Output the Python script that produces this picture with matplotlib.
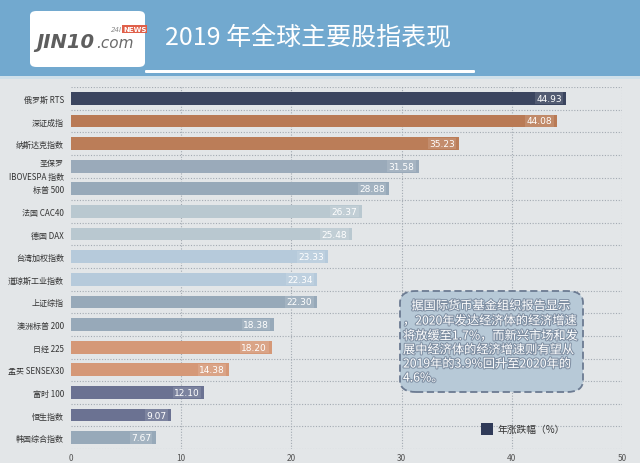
import matplotlib
matplotlib.use("Agg")
import matplotlib.pyplot as plt
from matplotlib.patches import FancyBboxPatch, Rectangle
import matplotlib.patheffects as pe

plt.rcParams['font.family'] = ['Noto Sans CJK SC', 'DejaVu Sans']

categories = ["俄罗斯 RTS", "深证成指", "纳斯达克指数", "圣保罗\nIBOVESPA 指数", "标普 500",
              "法国 CAC40", "德国 DAX", "台湾加权指数", "道琼斯工业指数", "上证综指",
              "澳洲标普 200", "日经 225", "孟买 SENSEX30", "富时 100", "恒生指数", "韩国综合指数"]
values = [44.93, 44.08, 35.23, 31.58, 28.88, 26.37, 25.48, 23.33, 22.34, 22.30,
          18.38, 18.20, 14.38, 12.10, 9.07, 7.67]
labels = ["44.93", "44.08", "35.23", "31.58", "28.88", "26.37", "25.48", "23.33", "22.34", "22.30",
          "18.38", "18.20", "14.38", "12.10", "9.07", "7.67"]
colors = ["#3b455f", "#b97a55", "#bb7d58", "#9aaaba", "#97a9b9",
          "#b9c8d0", "#b9c8d0", "#b6cadb", "#b6cadb", "#97a9b9",
          "#97a9b9", "#d59877", "#d59877", "#6b7292", "#6b7292", "#97a9b9"]
xticks = [0, 10, 20, 30, 40, 50]
legend_label = "年涨跌幅（%）"
title = "2019 年全球主要股指表现"
note_lines = ["据国际货币基金组织报告显示",
              "，2020年发达经济体的经济增速",
              "将放缓至1.7%，而新兴市场和发",
              "展中经济体的经济增速则有望从",
              "2019年的3.9%回升至2020年的",
              "4.6%。"]

W, H = 640, 464
fig = plt.figure(figsize=(6.4, 4.64), dpi=100, facecolor="#e3e6e8")

def fx(px):
    return px / W

def fy(py):
    return 1 - py / H

# header band
fig.patches.append(Rectangle((0, fy(77)), 1, 77 / H, transform=fig.transFigure,
                             facecolor="#72a9cf", edgecolor="none", zorder=0))
fig.patches.append(Rectangle((0, fy(80)), 1, 3 / H, transform=fig.transFigure,
                             facecolor="#cfe0ea", edgecolor="none", zorder=0))
# logo box
fig.patches.append(FancyBboxPatch((fx(30), fy(68)), fx(115), 56 / H,
                                  boxstyle="round,pad=0,rounding_size=0.01",
                                  transform=fig.transFigure, facecolor="white",
                                  edgecolor="none", zorder=1))
fig.text(fx(36), fy(42), "JIN10", fontsize=14, fontweight="bold", style="italic",
         color="#5e5e5e", family="DejaVu Sans", va="center", ha="left", zorder=2)
fig.text(fx(96), fy(44), ".com", fontsize=11, style="italic", color="#6a6a6a",
         family="DejaVu Sans", va="center", ha="left", zorder=2)
fig.text(fx(111), fy(30), "24I", fontsize=5, style="italic", color="#888888",
         family="DejaVu Sans", va="center", ha="left", zorder=2)
fig.text(fx(123), fy(30), "NEWS", fontsize=5, fontweight="bold", color="white",
         family="DejaVu Sans", va="center", ha="left", zorder=3,
         bbox=dict(boxstyle="square,pad=0.15", facecolor="#e0604a", edgecolor="none"))
# title
fig.text(fx(165), fy(38), title, fontsize=18, color="white", va="center", ha="left", zorder=2)
fig.patches.append(FancyBboxPatch((fx(145), fy(74)), fx(330), 3 / H,
                                  boxstyle="round,pad=0,rounding_size=0.002",
                                  transform=fig.transFigure, facecolor="white",
                                  edgecolor="none", zorder=1))

# axes
ax = fig.add_axes([fx(71), 1 - 450 / H, fx(551), (450 - 88) / H])
ax.set_facecolor("none")
n = len(values)
ypos = list(range(n))
ax.barh(ypos, values, height=0.56, color=colors, zorder=3)
ax.set_xlim(0, 50)
ax.set_ylim(n - 0.5, -0.5)
for s in ax.spines.values():
    s.set_visible(False)
for k in range(n + 1):
    ax.axhline(k - 0.5, color="#a3aab2", lw=0.8, ls=(0, (1, 1.5)), zorder=1)
for x in xticks[1:]:
    ax.axvline(x, color="#a3aab2", lw=0.8, ls=(0, (1, 1.5)), zorder=1)
ax.set_xticks(xticks)
ax.set_xticklabels([str(t) for t in xticks], fontsize=6, color="#555555")
ax.tick_params(axis="x", length=0, pad=3)
ax.set_yticks(ypos)
ax.set_yticklabels(categories, fontsize=5.8, color="#333333", linespacing=1.7)
ax.tick_params(axis="y", length=0, pad=5)

for y, v, lab in zip(ypos, values, labels):
    ax.text(v - 0.4, y, lab, ha="right", va="center", fontsize=6.5, color="white",
            family="DejaVu Sans", zorder=4,
            bbox=dict(boxstyle="square,pad=0.15", facecolor="white", alpha=0.12,
                      edgecolor="none"))

# note box
fig.patches.append(FancyBboxPatch((fx(400), fy(393)), fx(183), 101 / H,
                                  boxstyle="round,pad=0,rounding_size=0.025",
                                  transform=fig.transFigure, facecolor="#b7c9d7",
                                  edgecolor="#6c7b92", lw=1.3, ls=(0, (4, 2)),
                                  zorder=5))
line_y = [307, 322, 337, 351, 365, 379]
for i, (ln, py) in enumerate(zip(note_lines, line_y)):
    if i == 0:
        fig.text(fx(491), fy(py), ln, fontsize=8.8, color="white", ha="center", va="center",
                 zorder=6, path_effects=[pe.withStroke(linewidth=1.5, foreground="#7f8fa3")])
    else:
        fig.text(fx(403), fy(py), ln, fontsize=8.8, color="white", ha="left", va="center",
                 zorder=6, path_effects=[pe.withStroke(linewidth=1.5, foreground="#7f8fa3")])

# legend
fig.patches.append(Rectangle((fx(481), fy(436)), fx(12), 12 / H, transform=fig.transFigure,
                             facecolor="#2f3a58", edgecolor="none", zorder=6))
fig.text(fx(498), fy(430), legend_label, fontsize=7, color="#333333", ha="left",
         va="center", zorder=6)

fig.savefig("out.png", dpi=100, facecolor=fig.get_facecolor())
